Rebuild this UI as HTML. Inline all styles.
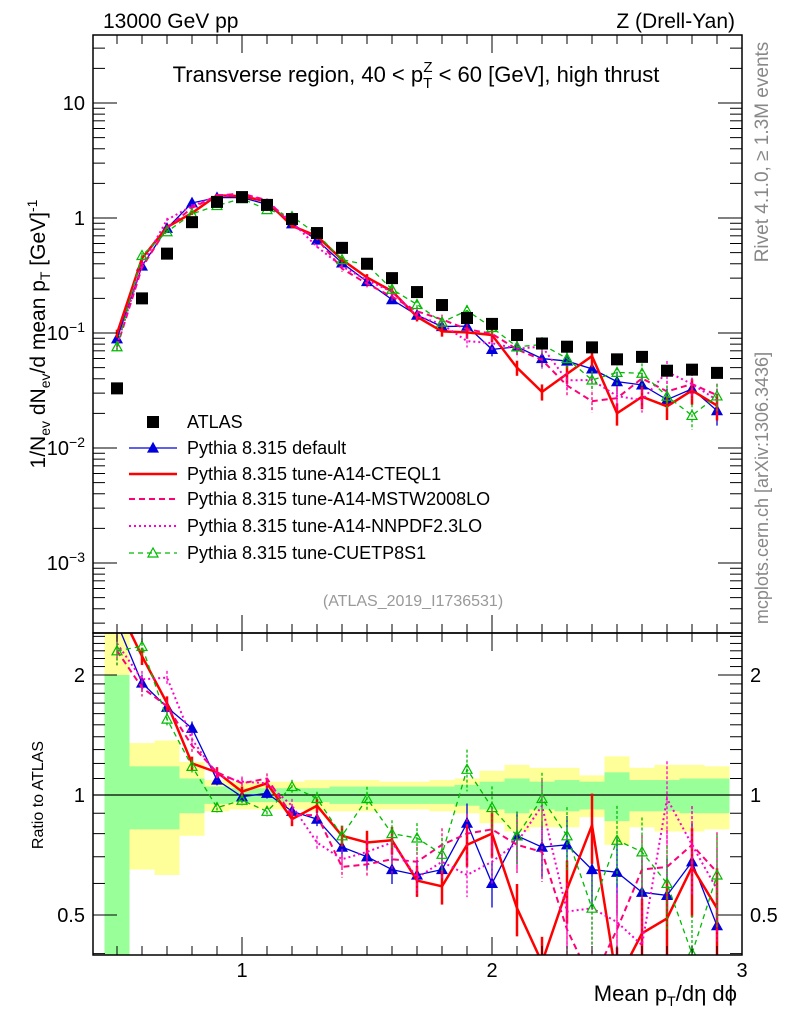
<!DOCTYPE html>
<html><head><meta charset="utf-8"><style>
body{margin:0;background:#fff;width:786px;height:1024px;overflow:hidden}
svg{display:block;font-family:"Liberation Sans",Arial,sans-serif}
</style></head><body>
<svg id="c" width="786" height="1024" viewBox="0 0 786 1024">
<text x="103" y="28" font-size="21">13000 GeV pp</text>
<text x="735" y="28" font-size="21" text-anchor="end">Z (Drell-Yan)</text>
<text x="416" y="82" font-size="22" text-anchor="middle">Transverse region, 40 &lt; p<tspan font-size="15" dy="6">T</tspan><tspan font-size="15" dx="-9" dy="-16">Z</tspan><tspan dy="10"> &lt; 60 [GeV], high thrust</tspan></text>
<text transform="translate(45,334) rotate(-90)" font-size="21" text-anchor="middle">1/N<tspan font-size="14" dy="5">ev</tspan><tspan dy="-5"> dN</tspan><tspan font-size="14" dy="5">ev</tspan><tspan dy="-5">/d mean p</tspan><tspan font-size="14" dy="5">T</tspan><tspan dy="-5"> [GeV]</tspan><tspan font-size="14" dy="-8">-1</tspan></text>
<text transform="translate(768,152) rotate(-90)" font-size="19" fill="#888" text-anchor="middle">Rivet 4.1.0, ≥ 1.3M events</text>
<text transform="translate(768,488) rotate(-90)" font-size="18" fill="#888" text-anchor="middle">mcplots.cern.ch [arXiv:1306.3436]</text>
<text x="413" y="606" font-size="16" fill="#999" text-anchor="middle">(ATLAS_2019_I1736531)</text>
<text transform="translate(43,795) rotate(-90)" font-size="16" text-anchor="middle">Ratio to ATLAS</text>
<text x="737" y="1001" font-size="22" text-anchor="end">Mean p<tspan font-size="14" dy="5">T</tspan><tspan dy="-5">/dη dϕ</tspan></text>
<g id="main"></g>
</svg>
<script>
const xs=[0.5,0.6,0.7,0.8,0.9,1.0,1.1,1.2,1.3,1.4,1.5,1.6,1.7,1.8,1.9,2.0,2.1,2.2,2.3,2.4,2.5,2.6,2.7,2.8,2.9];
const atlas=[0.033,0.20,0.49,0.92,1.38,1.52,1.30,0.98,0.74,0.55,0.40,0.30,0.227,0.175,0.135,0.12,0.096,0.081,0.076,0.075,0.059,0.062,0.047,0.048,0.045];
const rDefault=[2.7,1.91,1.66,1.47,1.09,0.99,1.01,0.91,0.87,0.74,0.70,0.65,0.63,0.65,0.85,0.60,0.79,0.74,0.75,0.65,0.64,0.57,0.56,0.68,0.47];
const rCteq=[3.0,2.23,1.70,1.20,1.14,1.02,1.07,0.87,0.94,0.79,0.76,0.77,0.61,0.59,0.75,0.80,0.52,0.38,0.58,0.84,0.34,0.45,0.49,0.66,0.52];
const rMstw=[2.3,1.86,1.67,1.33,1.14,1.07,1.10,0.89,0.89,0.66,0.67,0.69,0.68,0.75,0.80,0.82,0.75,0.72,0.46,0.34,0.46,0.65,0.66,0.75,0.64];
const rNnpdf=[2.4,1.95,1.97,1.38,1.12,1.08,1.07,0.94,0.76,0.69,0.72,0.76,0.62,0.68,0.63,0.68,0.76,0.94,0.51,0.52,0.48,0.42,0.98,0.75,0.58];
const rCuetp=[2.3,2.36,1.55,1.18,0.93,0.97,0.91,1.05,0.98,0.79,0.98,0.80,0.78,0.71,1.16,0.93,0.79,0.98,0.79,0.52,0.77,0.72,0.60,0.40,0.63];
const mcErr=[0.08,0.05,0.04,0.04,0.03,0.03,0.03,0.04,0.04,0.06,0.07,0.08,0.09,0.10,0.12,0.13,0.15,0.16,0.18,0.2,0.22,0.22,0.24,0.25,0.26];
const bandTot=[1.6,0.35,0.37,0.21,0.09,0.08,0.08,0.08,0.09,0.09,0.09,0.08,0.08,0.09,0.10,0.15,0.19,0.17,0.17,0.12,0.25,0.17,0.19,0.19,0.18];
const bandStat=[1.0,0.18,0.18,0.10,0.05,0.04,0.04,0.04,0.04,0.05,0.05,0.05,0.05,0.05,0.06,0.08,0.10,0.08,0.09,0.08,0.14,0.09,0.09,0.10,0.10];
const xTicks=[1,2,3];

const L=93,R=742,T1=35,B1=633,B2=955;
const X=v=>242+(v-1)*250;
const Y=v=>218-115*Math.log10(v);
const YR=v=>795-120*Math.log2(v);
const NS="http://www.w3.org/2000/svg";
const g=document.getElementById('main');
function mk(tag,a,p){const e=document.createElementNS(NS,tag);for(const k in a)e.setAttribute(k,a[k]);(p||g).appendChild(e);return e;}

const defs=mk('defs',{});
const c1=mk('clipPath',{id:'c1'},defs);mk('rect',{x:L,y:T1,width:R-L,height:B1-T1},c1);
const c2=mk('clipPath',{id:'c2'},defs);mk('rect',{x:L,y:B1,width:R-L,height:B2-B1},c2);
const gm=mk('g',{'clip-path':'url(#c1)'});


const gr=mk('g',{'clip-path':'url(#c2)'});



xs.forEach((x,i)=>{
  const x0=X(x-0.05),x1=X(x+0.05);
  const t=bandTot[i],s=bandStat[i];
  const ry=mk('rect',{x:x0,y:YR(1+t),width:x1-x0,height:YR(Math.max(1-t,0.01))-YR(1+t),fill:'#ffff99'},gr);
  
  
  const rg=mk('rect',{x:x0,y:YR(1+s),width:x1-x0,height:YR(Math.max(1-s,0.01))-YR(1+s),fill:'#99ff99'},gr);
  
  
});
const l1=mk('line',{x1:L,x2:R,y1:YR(1),y2:YR(1),stroke:'#000','stroke-width':1.2},gr);



const series=[
 {name:'default',r:rDefault,col:'#0000dd',w:1.3,dash:'',mark:'tri'},
 {name:'cteql1',r:rCteq,col:'#ff0000',w:2.5,dash:'',mark:''},
 {name:'mstw2008lo',r:rMstw,col:'#ff0077',w:2,dash:'6,4',mark:''},
 {name:'nnpdf23lo',r:rNnpdf,col:'#ff00cc',w:2,dash:'2,3',mark:''},
 {name:'cuetp8s1',r:rCuetp,col:'#00bb00',w:1.3,dash:'5,4',mark:'otri'}
];
function tri(p,x,y,col,open){
  return mk('polygon',{points:`${x},${y-5} ${x-5},${y+4} ${x+5},${y+4}`,fill:open?'none':col,stroke:col,'stroke-width':1.2},p);
}
function drawSeries(p,vals,yf,s,pfx){
  const pts=xs.map((x,i)=>X(x)+','+yf(vals[i])).join(' ');
  const pl=mk('polyline',{points:pts,fill:'none',stroke:s.col,'stroke-width':s.w,'stroke-dasharray':s.dash},p);
  
  
  xs.forEach((x,i)=>{
    const v=vals[i],e=mcErr[i];
    const eb=mk('line',{x1:X(x),x2:X(x),y1:yf(v*(1+e)),y2:yf(v*(1-e)),stroke:s.col,'stroke-width':s.w>2?2.5:1.3,'stroke-dasharray':s.dash?'3,2':''},p);
    
    
    if(s.mark){const m=tri(p,X(x),yf(v),s.col,s.mark==='otri');
      
      }
  });
}
series.forEach(s=>{
  drawSeries(gm,s.r.map((r,i)=>r*atlas[i]),Y,s,'main');
  drawSeries(gr,s.r,YR,s,'ratio');
});
xs.forEach((x,i)=>{
  const r=mk('rect',{x:X(x)-6,y:Y(atlas[i])-6,width:12,height:12,fill:'#000'},gm);
  
  
});

[[T1,B1],[B1,B2]].forEach(([a,b],k)=>{
  const f=mk('rect',{x:L,y:a,width:R-L,height:b-a,fill:'none',stroke:'#000','stroke-width':1.5});
  
  
});
for(let d=-4;d<=1;d++){for(let m=1;m<10;m++){const v=m*Math.pow(10,d);const y=Y(v);if(y<T1||y>B1)continue;
  const len=m===1?24:12;
  mk('line',{x1:L,x2:L+len,y1:y,y2:y,stroke:'#000','stroke-width':1});
  mk('line',{x1:R,x2:R-len,y1:y,y2:y,stroke:'#000','stroke-width':1});
}}
[[10,'10'],[1,'1']].forEach(([v,t])=>{const e=mk('text',{x:L-8,y:Y(v)+7,'font-size':20,'text-anchor':'end'});e.textContent=t;
  });
[-1,-2,-3].forEach(d=>{const e=mk('text',{x:L-8,y:Y(Math.pow(10,d))+7,'font-size':20,'text-anchor':'end'});
  e.innerHTML='10<tspan font-size="14" dy="-8">−'+(-d)+'</tspan>';
  });
for(let k=4;k<=25;k++){const vv=k/10;const y=YR(vv);if(y<B1||y>B2)continue;
  const maj=(k===5||k===10||k===20);const len=maj?24:12;
  mk('line',{x1:L,x2:L+len,y1:y,y2:y,stroke:'#000'});mk('line',{x1:R,x2:R-len,y1:y,y2:y,stroke:'#000'});}
[[2,'2'],[1,'1'],[0.5,'0.5']].forEach(([v,t])=>{
  const e=mk('text',{x:L-8,y:YR(v)+7,'font-size':20,'text-anchor':'end'});e.textContent=t;
  
  const e2=mk('text',{x:R+8,y:YR(v)+7,'font-size':20,fill:'#000'});e2.textContent=t;
  });
for(let k=5;k<=30;k++){const x=X(k/10);const maj=k%10===0;const len=maj?18:9;
  [[T1,1],[B1,-1],[B1,1],[B2,-1]].forEach(([y,s])=>mk('line',{x1:x,x2:x,y1:y,y2:y+s*len,stroke:'#000'}));}
xTicks.forEach(v=>{const e=mk('text',{x:X(v),y:977,'font-size':20,'text-anchor':'middle'});e.textContent=v;
  });

const leg=[['ATLAS','sq','#000',''],['Pythia 8.315 default','tri','#0000dd',''],['Pythia 8.315 tune-A14-CTEQL1','','#ff0000',''],
['Pythia 8.315 tune-A14-MSTW2008LO','','#ff0077','6,4'],['Pythia 8.315 tune-A14-NNPDF2.3LO','','#ff00cc','2,3'],['Pythia 8.315 tune-CUETP8S1','otri','#00bb00','5,4']];
const ly=[422,448,474,499,526,553];
leg.forEach((l,i)=>{
  const lg=mk('g',{});
  
  
  const y=ly[i];
  if(l[1]==='sq'){mk('rect',{x:147,y:y-6,width:12,height:12,fill:'#000'},lg);}
  else{mk('line',{x1:129,x2:177,y1:y,y2:y,stroke:l[2],'stroke-width':i===2?2.5:(i===1||i===5?1.3:2),'stroke-dasharray':l[3]},lg);
    if(l[1])tri(lg,153,y,l[2],l[1]==='otri');}
  const t=mk('text',{x:187,y:y+6,'font-size':18},lg);t.textContent=l[0];
});
</script>
</body></html>
